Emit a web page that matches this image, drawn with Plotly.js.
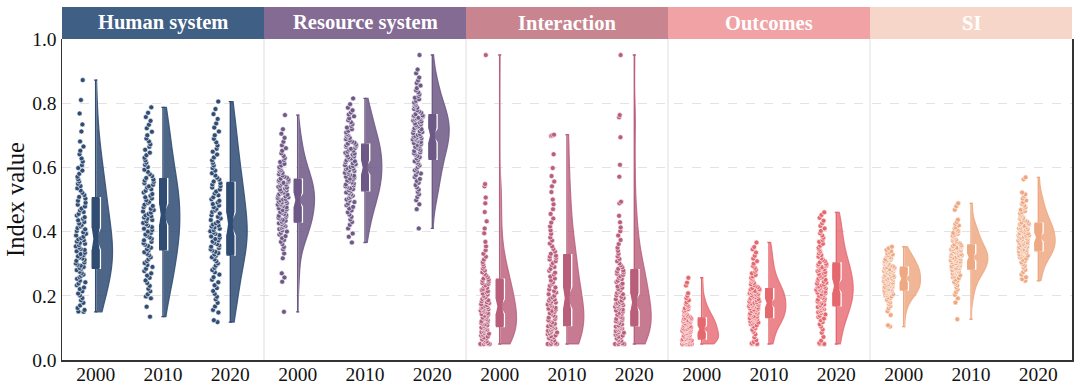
<!DOCTYPE html>
<html><head><meta charset="utf-8">
<script src="https://cdn.plot.ly/plotly-3.0.1.min.js"></script>
<style>html,body{margin:0;padding:0;background:#fff}#chart{width:1080px;height:390px}</style>
</head><body><div id="chart"></div>
<script>
const groups = ['Human system','Resource system','Interaction','Outcomes','SI'];
const years = ['2000','2010','2020'];
const boxColors = ['#304c73','#6d5886','#b95e7b','#e5686f','#eea983'];
const violinColors = ['rgba(48,76,115,0.86)','rgba(109,88,134,0.86)','rgba(185,94,123,0.82)','rgba(229,104,111,0.8)','rgba(238,169,131,0.85)'];
const headerColors = ['#3f5f85','#846b94','#c8858f','#f0a2a5','#f6d6c8'];

const human2000 = [0.150,0.151,0.156,0.162,0.170,0.178,0.186,0.193,0.201,0.207,0.214,0.221,0.226,0.233,0.238,0.242,0.247,0.253,0.258,0.262,0.266,0.271,0.275,0.280,0.284,
0.287,0.290,0.294,0.297,0.301,0.304,0.309,0.312,0.316,0.319,0.323,0.327,0.330,0.334,0.339,0.343,0.346,0.350,0.354,0.358,0.362,0.365,0.369,0.373,0.376,
0.379,0.384,0.388,0.393,0.398,0.402,0.407,0.411,0.416,0.421,0.425,0.430,0.435,0.440,0.445,0.450,0.455,0.461,0.466,0.472,0.478,0.484,0.490,0.496,0.503,
0.508,0.514,0.521,0.528,0.535,0.542,0.549,0.556,0.563,0.571,0.580,0.590,0.598,0.607,0.618,0.628,0.641,0.652,0.665,0.681,0.712,0.734,0.768,0.810,0.872];
const human2010 = [0.135,0.166,0.192,0.198,0.205,0.214,0.222,0.231,0.240,0.248,0.256,0.263,0.270,0.277,0.284,0.290,0.296,0.302,0.308,0.314,0.320,0.326,0.331,0.336,0.341,
0.345,0.350,0.355,0.359,0.364,0.368,0.373,0.378,0.382,0.387,0.391,0.396,0.400,0.405,0.409,0.414,0.418,0.423,0.427,0.432,0.436,0.440,0.444,0.448,0.451,
0.455,0.459,0.463,0.467,0.471,0.476,0.480,0.484,0.489,0.493,0.498,0.503,0.507,0.512,0.517,0.522,0.527,0.532,0.537,0.541,0.546,0.551,0.555,0.559,0.562,
0.567,0.573,0.579,0.586,0.593,0.601,0.608,0.615,0.622,0.630,0.638,0.646,0.655,0.664,0.672,0.681,0.690,0.700,0.711,0.722,0.733,0.745,0.757,0.770,0.787];
const human2020 = [0.118,0.124,0.148,0.156,0.167,0.178,0.189,0.197,0.206,0.215,0.224,0.233,0.242,0.250,0.258,0.266,0.273,0.280,0.287,0.294,0.301,0.308,0.314,0.320,0.325,
0.329,0.333,0.337,0.341,0.345,0.349,0.353,0.357,0.361,0.365,0.369,0.373,0.377,0.381,0.385,0.389,0.393,0.397,0.401,0.405,0.409,0.413,0.416,0.419,0.422,
0.426,0.431,0.436,0.441,0.446,0.451,0.456,0.461,0.466,0.471,0.476,0.481,0.486,0.491,0.496,0.501,0.507,0.513,0.519,0.525,0.531,0.537,0.542,0.547,0.551,
0.556,0.562,0.568,0.575,0.582,0.590,0.598,0.606,0.614,0.622,0.631,0.640,0.649,0.658,0.668,0.678,0.689,0.700,0.712,0.724,0.737,0.751,0.766,0.782,0.805];

const resource2000 = [0.150,0.244,0.257,0.270,0.317,0.332,0.345,0.352,0.361,0.368,0.374,0.380,0.386,0.391,0.396,0.400,0.404,0.408,0.411,0.414,0.417,0.420,0.423,0.426,0.428,
0.431,0.434,0.437,0.440,0.443,0.446,0.449,0.452,0.455,0.458,0.461,0.464,0.467,0.470,0.473,0.476,0.479,0.482,0.484,0.486,0.489,0.491,0.493,0.495,0.497,
0.500,0.502,0.505,0.507,0.510,0.512,0.515,0.517,0.520,0.522,0.525,0.528,0.531,0.534,0.537,0.540,0.543,0.546,0.549,0.552,0.554,0.556,0.558,0.560,0.562,
0.565,0.568,0.571,0.575,0.579,0.583,0.587,0.591,0.596,0.601,0.606,0.611,0.617,0.623,0.629,0.636,0.644,0.652,0.660,0.669,0.680,0.692,0.705,0.719,0.763];
const resource2010 = [0.366,0.384,0.394,0.410,0.421,0.430,0.438,0.446,0.453,0.460,0.466,0.472,0.477,0.482,0.487,0.492,0.496,0.500,0.504,0.508,0.512,0.516,0.519,0.522,0.525,
0.529,0.532,0.535,0.538,0.541,0.544,0.547,0.550,0.553,0.556,0.559,0.562,0.565,0.568,0.571,0.574,0.577,0.580,0.583,0.586,0.589,0.591,0.594,0.596,0.598,
0.601,0.604,0.607,0.610,0.613,0.616,0.619,0.622,0.625,0.628,0.631,0.634,0.637,0.640,0.643,0.646,0.649,0.652,0.655,0.658,0.661,0.664,0.667,0.669,0.671,
0.674,0.677,0.680,0.684,0.688,0.692,0.696,0.700,0.704,0.709,0.714,0.719,0.724,0.729,0.735,0.741,0.747,0.753,0.759,0.765,0.771,0.778,0.786,0.797,0.815];
const resource2020 = [0.410,0.470,0.485,0.498,0.508,0.516,0.524,0.531,0.538,0.545,0.552,0.558,0.564,0.570,0.576,0.581,0.586,0.591,0.596,0.601,0.606,0.611,0.615,0.619,0.623,
0.628,0.632,0.636,0.640,0.644,0.647,0.651,0.654,0.658,0.661,0.664,0.667,0.670,0.673,0.676,0.679,0.682,0.685,0.687,0.689,0.691,0.693,0.695,0.697,0.698,
0.701,0.704,0.707,0.710,0.713,0.716,0.719,0.722,0.725,0.728,0.731,0.734,0.737,0.740,0.743,0.746,0.749,0.751,0.753,0.755,0.757,0.759,0.760,0.761,0.762,
0.766,0.770,0.774,0.778,0.782,0.786,0.790,0.794,0.798,0.802,0.807,0.812,0.817,0.822,0.828,0.834,0.840,0.847,0.855,0.863,0.871,0.880,0.893,0.905,0.950];

const interaction2000 = [0.050,0.050,0.050,0.050,0.050,0.052,0.055,0.058,0.061,0.064,0.067,0.070,0.073,0.076,0.079,0.082,0.084,0.087,0.089,0.092,0.094,0.096,0.099,0.101,0.103,
0.106,0.108,0.111,0.113,0.116,0.119,0.121,0.124,0.127,0.129,0.132,0.135,0.138,0.141,0.143,0.146,0.149,0.151,0.154,0.156,0.158,0.160,0.162,0.164,0.165,
0.168,0.171,0.174,0.177,0.180,0.183,0.186,0.190,0.193,0.196,0.200,0.204,0.207,0.211,0.214,0.218,0.221,0.225,0.229,0.233,0.237,0.240,0.244,0.247,0.250,
0.254,0.258,0.263,0.268,0.273,0.279,0.285,0.291,0.298,0.305,0.313,0.322,0.331,0.342,0.354,0.368,0.395,0.410,0.432,0.461,0.488,0.506,0.541,0.548,0.950];
const interaction2010 = [0.050,0.050,0.050,0.050,0.050,0.053,0.057,0.061,0.064,0.068,0.071,0.074,0.077,0.080,0.083,0.086,0.088,0.091,0.094,0.096,0.099,0.101,0.103,0.105,0.106,
0.109,0.113,0.117,0.121,0.124,0.128,0.132,0.135,0.139,0.143,0.146,0.150,0.153,0.157,0.160,0.163,0.167,0.170,0.173,0.176,0.179,0.182,0.185,0.188,0.191,
0.195,0.200,0.205,0.210,0.215,0.220,0.226,0.231,0.237,0.242,0.248,0.254,0.260,0.266,0.272,0.278,0.284,0.290,0.296,0.302,0.308,0.313,0.318,0.322,0.325,
0.331,0.338,0.346,0.354,0.363,0.372,0.382,0.393,0.404,0.416,0.428,0.441,0.455,0.470,0.485,0.500,0.523,0.541,0.556,0.573,0.598,0.641,0.698,0.700,0.702];
const interaction2020 = [0.050,0.050,0.050,0.050,0.050,0.052,0.056,0.060,0.063,0.067,0.070,0.073,0.076,0.079,0.082,0.085,0.087,0.090,0.093,0.095,0.098,0.100,0.102,0.104,0.105,
0.108,0.111,0.115,0.118,0.121,0.125,0.128,0.131,0.134,0.138,0.141,0.144,0.147,0.151,0.154,0.157,0.160,0.163,0.166,0.168,0.171,0.173,0.175,0.177,0.178,
0.181,0.185,0.189,0.193,0.197,0.201,0.205,0.209,0.213,0.217,0.221,0.225,0.229,0.234,0.238,0.243,0.247,0.252,0.256,0.261,0.265,0.269,0.273,0.276,0.279,
0.284,0.289,0.295,0.301,0.308,0.315,0.323,0.331,0.340,0.350,0.361,0.374,0.388,0.401,0.413,0.429,0.449,0.488,0.493,0.571,0.608,0.694,0.756,0.763,0.950];

const outcomes2000 = [0.050,0.050,0.050,0.050,0.050,0.050,0.050,0.050,0.052,0.054,0.055,0.057,0.058,0.059,0.060,0.061,0.062,0.062,0.063,0.063,0.064,0.064,0.064,0.065,0.065,
0.066,0.068,0.070,0.071,0.073,0.074,0.076,0.077,0.079,0.080,0.082,0.083,0.084,0.086,0.087,0.088,0.089,0.090,0.091,0.092,0.093,0.094,0.095,0.095,0.096,
0.097,0.099,0.100,0.102,0.103,0.105,0.106,0.108,0.109,0.111,0.112,0.114,0.115,0.117,0.118,0.120,0.121,0.122,0.124,0.125,0.126,0.127,0.128,0.129,0.130,
0.132,0.134,0.136,0.138,0.140,0.142,0.145,0.147,0.150,0.152,0.155,0.158,0.161,0.164,0.167,0.171,0.175,0.180,0.186,0.193,0.200,0.208,0.232,0.241,0.256];
const outcomes2010 = [0.050,0.050,0.050,0.052,0.056,0.062,0.071,0.080,0.088,0.094,0.099,0.104,0.108,0.111,0.114,0.117,0.119,0.121,0.123,0.125,0.126,0.128,0.129,0.130,0.131,
0.133,0.135,0.137,0.139,0.141,0.143,0.145,0.147,0.149,0.151,0.153,0.155,0.157,0.159,0.161,0.163,0.165,0.166,0.168,0.169,0.171,0.172,0.174,0.175,0.176,
0.178,0.180,0.182,0.184,0.186,0.188,0.190,0.192,0.194,0.196,0.198,0.200,0.202,0.204,0.206,0.208,0.210,0.212,0.214,0.215,0.217,0.218,0.219,0.220,0.221,
0.224,0.227,0.230,0.233,0.236,0.240,0.244,0.248,0.252,0.256,0.260,0.265,0.270,0.275,0.281,0.287,0.293,0.300,0.308,0.316,0.325,0.335,0.345,0.352,0.366];
const outcomes2020 = [0.050,0.050,0.050,0.053,0.060,0.072,0.085,0.095,0.104,0.111,0.118,0.124,0.129,0.134,0.138,0.142,0.146,0.149,0.152,0.155,0.158,0.161,0.163,0.165,0.167,
0.170,0.173,0.176,0.179,0.182,0.185,0.188,0.191,0.194,0.197,0.200,0.203,0.205,0.208,0.210,0.213,0.215,0.217,0.219,0.221,0.223,0.225,0.227,0.228,0.229,
0.232,0.235,0.238,0.241,0.244,0.247,0.250,0.253,0.256,0.259,0.262,0.265,0.268,0.271,0.274,0.277,0.280,0.283,0.286,0.289,0.292,0.294,0.296,0.298,0.300,
0.304,0.308,0.312,0.317,0.322,0.327,0.332,0.338,0.344,0.350,0.356,0.362,0.368,0.374,0.381,0.388,0.395,0.402,0.410,0.418,0.426,0.434,0.443,0.452,0.460];

const si2000 = [0.104,0.108,0.140,0.152,0.161,0.168,0.174,0.179,0.184,0.188,0.192,0.195,0.198,0.201,0.203,0.205,0.207,0.209,0.210,0.212,0.213,0.214,0.215,0.216,0.217,
0.219,0.220,0.222,0.223,0.225,0.226,0.228,0.229,0.231,0.232,0.234,0.235,0.237,0.238,0.240,0.241,0.243,0.244,0.246,0.247,0.248,0.250,0.251,0.252,0.253,
0.255,0.256,0.258,0.259,0.261,0.262,0.264,0.265,0.267,0.268,0.270,0.271,0.273,0.274,0.276,0.277,0.279,0.280,0.282,0.283,0.284,0.285,0.286,0.287,0.288,
0.290,0.292,0.294,0.296,0.298,0.300,0.302,0.304,0.306,0.308,0.310,0.312,0.314,0.316,0.318,0.320,0.323,0.326,0.329,0.332,0.335,0.339,0.343,0.348,0.353];
const si2010 = [0.127,0.179,0.192,0.203,0.212,0.220,0.227,0.233,0.238,0.243,0.247,0.251,0.255,0.258,0.261,0.264,0.267,0.269,0.271,0.273,0.275,0.277,0.279,0.280,0.282,
0.284,0.286,0.287,0.289,0.290,0.292,0.293,0.295,0.296,0.298,0.299,0.301,0.302,0.304,0.305,0.307,0.308,0.310,0.311,0.313,0.314,0.315,0.317,0.318,0.319,
0.321,0.323,0.324,0.326,0.327,0.329,0.330,0.332,0.333,0.335,0.336,0.338,0.339,0.341,0.342,0.344,0.345,0.347,0.348,0.350,0.351,0.353,0.354,0.355,0.357,
0.360,0.363,0.366,0.369,0.372,0.375,0.378,0.381,0.384,0.387,0.390,0.393,0.396,0.399,0.402,0.406,0.410,0.414,0.419,0.424,0.430,0.437,0.468,0.479,0.488];
const si2020 = [0.247,0.252,0.258,0.266,0.274,0.281,0.288,0.294,0.299,0.304,0.308,0.312,0.316,0.319,0.322,0.325,0.327,0.329,0.331,0.333,0.334,0.336,0.337,0.338,0.339,
0.341,0.343,0.345,0.346,0.348,0.350,0.352,0.353,0.355,0.357,0.358,0.360,0.362,0.364,0.365,0.367,0.369,0.370,0.372,0.374,0.375,0.377,0.378,0.380,0.381,
0.383,0.385,0.387,0.388,0.390,0.392,0.394,0.395,0.397,0.399,0.401,0.403,0.405,0.406,0.408,0.410,0.412,0.414,0.416,0.418,0.420,0.421,0.423,0.424,0.425,
0.428,0.431,0.434,0.437,0.440,0.443,0.446,0.449,0.452,0.456,0.460,0.464,0.468,0.472,0.476,0.481,0.486,0.491,0.497,0.503,0.510,0.516,0.522,0.563,0.569];

const values = [
  [human2000, human2010, human2020],
  [resource2000, resource2010, resource2020],
  [interaction2000, interaction2010, interaction2020],
  [outcomes2000, outcomes2010, outcomes2020],
  [si2000, si2010, si2020]
];

const SERIF = '"Liberation Serif","Times New Roman",Times,serif';
const violins = [], outerBoxes = [], innerBoxes = [];
const tickPos = [], tickText = [];
groups.forEach((g, gi) => {
  years.forEach((yr, yi) => {
    const pos = gi * years.length + yi;
    tickPos.push(pos); tickText.push(yr);
    const v = values[gi][yi];
    violins.push({
      type: 'violin', y: v, x0: pos, name: g + ' ' + yr,
      side: 'positive', width: 0.5, spanmode: 'hard', scalemode: 'width',
      points: 'all', pointpos: -0.86, jitter: 0.34,
      marker: {color: boxColors[gi], size: 5, line: {color: '#ffffff', width: 0.6}},
      line: {color: violinColors[gi], width: 1.2}, fillcolor: violinColors[gi],
      box: {visible: false}, meanline: {visible: false},
      hoverinfo: 'skip', showlegend: false
    });
    outerBoxes.push({
      type: 'box', y: v, x0: pos, width: 0.14, notched: true, notchwidth: 0.5,
      boxpoints: false, whiskerwidth: 0,
      fillcolor: boxColors[gi], line: {color: '#ffffff', width: 1.4},
      hoverinfo: 'skip', showlegend: false
    });
    innerBoxes.push({
      type: 'box', y: v, x0: pos, width: 0.095, notched: true, notchwidth: 0.62,
      boxpoints: false, whiskerwidth: 1.05,
      fillcolor: boxColors[gi], line: {color: boxColors[gi], width: 1.4},
      hoverinfo: 'skip', showlegend: false
    });
  });
});

const shapes = [], annotations = [];
const nG = groups.length;
for (let k = 1; k < nG; k++) {
  shapes.push({type: 'line', xref: 'paper', yref: 'paper', x0: k / nG, x1: k / nG, y0: 0, y1: 1,
    line: {color: '#dedede', width: 1}, layer: 'below'});
}
groups.forEach((g, gi) => {
  shapes.push({type: 'rect', xref: 'paper', yref: 'paper', x0: gi / nG, x1: (gi + 1) / nG,
    y0: 1, y1: 1.1, fillcolor: headerColors[gi], line: {width: 0}, layer: 'above'});
  annotations.push({xref: 'paper', yref: 'paper', x: (gi + 0.5) / nG, y: 1.05, text: '<b>' + g + '</b>',
    showarrow: false, xanchor: 'center', yanchor: 'middle',
    font: {family: SERIF, size: 20.5, color: '#ffffff'}});
});

const layout = {
  width: 1080, height: 390,
  margin: {l: 62, r: 8, t: 39, b: 30},
  paper_bgcolor: '#ffffff', plot_bgcolor: '#ffffff',
  font: {family: SERIF, size: 18, color: '#111111'},
  showlegend: false, hovermode: false,
  violinmode: 'overlay', boxmode: 'overlay',
  xaxis: {type: 'linear', range: [-0.5, 14.5], tickvals: tickPos, ticktext: tickText,
    showgrid: false, zeroline: false, showline: true, linecolor: '#333333', linewidth: 2,
    ticks: '', ticklabelstandoff: -4, tickfont: {family: SERIF, size: 19.5, color: '#111111'}, fixedrange: true},
  yaxis: {range: [0, 1], dtick: 0.2, tick0: 0, tickformat: '.1f',
    showgrid: true, gridcolor: '#dcdcdc', griddash: 'dash', gridwidth: 0.8,
    zeroline: false, showline: true, linecolor: '#333333', linewidth: 1.5, mirror: true,
    ticks: '', tickfont: {family: SERIF, size: 19.5, color: '#111111'},
    title: {text: 'Index value', font: {family: SERIF, size: 24.5, color: '#111111'}, standoff: 0},
    fixedrange: true},
  shapes: shapes,
  annotations: annotations
};

Plotly.newPlot('chart', violins.concat(outerBoxes, innerBoxes), layout, {staticPlot: true, displayModeBar: false});
</script>
</body></html>
